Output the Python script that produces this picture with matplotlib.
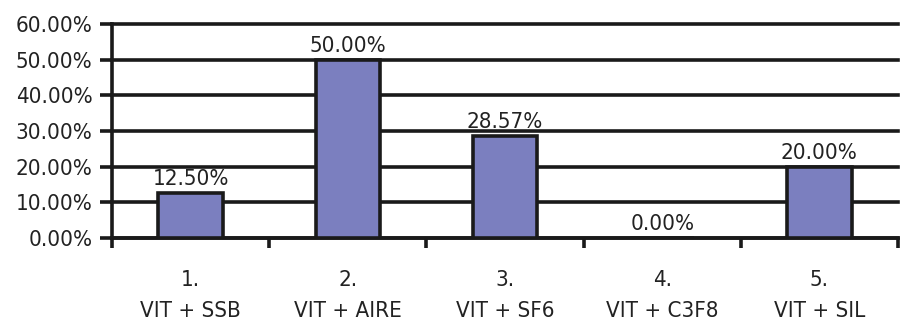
import numpy as np
import matplotlib
matplotlib.use("Agg")
import matplotlib.pyplot as plt
from matplotlib.ticker import FixedLocator, NullFormatter

categories = ["1.\nVIT + SSB", "2.\nVIT + AIRE", "3.\nVIT + SF6", "4.\nVIT + C3F8", "5.\nVIT + SIL"]
values = [12.50, 50.00, 28.57, 0.00, 20.00]
y_ticks = [0, 10, 20, 30, 40, 50, 60]

plt.rcParams["font.family"] = ["DejaVu Sans"]
plt.rcParams["font.stretch"] = "condensed"

fig = plt.figure(figsize=(9.04, 3.30), dpi=100)
ax = fig.add_axes([112 / 904, 1 - 238 / 330, (898 - 112) / 904, (238 - 24) / 330])

x = np.arange(len(values))
ax.bar(x, values, width=0.41, color="#7b7fbf", edgecolor="#1a1a1a", linewidth=2.6, zorder=3)

for xi, v in zip(x, values):
    ax.annotate(f"{v:.2f}%", (xi, v), xytext=(0, 3), textcoords="offset points",
                ha="center", va="bottom", fontsize=16, color="#222222", zorder=4)

ax.set_xlim(-0.5, len(values) - 0.5)
ax.set_ylim(0, 60)
ax.set_yticks(y_ticks)
ax.set_yticklabels([f"{t:.2f}%" for t in y_ticks], fontsize=16, color="#222222")
ax.yaxis.grid(True, color="#1a1a1a", linewidth=2.6, zorder=1)
for gl in ax.get_ygridlines():
    gl.set_clip_on(False)
ax.set_axisbelow(True)

# category labels on major ticks (no marks), tick marks at boundaries
ax.set_xticks(x)
ax.set_xticklabels(categories, fontsize=16, color="#222222", linespacing=1.72)
ax.tick_params(axis="x", which="major", length=0, pad=23)
ax.xaxis.set_minor_locator(FixedLocator(np.arange(-0.5, len(values), 1.0)))
ax.xaxis.set_minor_formatter(NullFormatter())
ax.tick_params(axis="x", which="minor", length=7, width=2.6, color="#1a1a1a", direction="out")
ax.tick_params(axis="y", length=9, width=2.6, color="#1a1a1a", pad=5)

for side in ["top", "right"]:
    ax.spines[side].set_visible(False)
ax.spines["left"].set_linewidth(2.6)
ax.spines["bottom"].set_linewidth(2.6)
ax.spines["left"].set_color("#1a1a1a")
ax.spines["bottom"].set_color("#1a1a1a")

fig.savefig("out.png", dpi=100)
